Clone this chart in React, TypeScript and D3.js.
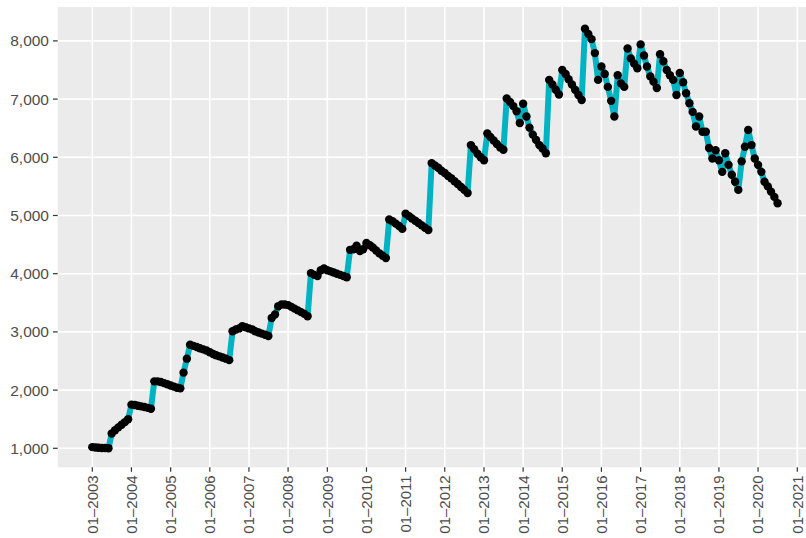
import React from 'react';
import * as d3 from 'd3';

// monthly values, Jan 2003 .. Jul 2020
const y2003 = [1020, 1015, 1010, 1005, 1005, 1000, 1255, 1310, 1360, 1405, 1450, 1500];
const y2004 = [1750, 1745, 1730, 1720, 1710, 1695, 1680, 2150, 2150, 2140, 2120, 2100];
const y2005 = [2080, 2060, 2040, 2030, 2300, 2540, 2780, 2760, 2740, 2720, 2700, 2680];
const y2006 = [2650, 2620, 2600, 2580, 2560, 2540, 2515, 3010, 3040, 3060, 3100, 3080];
const y2007 = [3060, 3040, 3010, 2990, 2970, 2950, 2930, 3240, 3300, 3440, 3470, 3470];
const y2008 = [3460, 3430, 3400, 3370, 3340, 3310, 3270, 4010, 3980, 3960, 4060, 4090];
const y2009 = [4060, 4040, 4020, 4000, 3980, 3960, 3940, 4410, 4420, 4480, 4390, 4420];
const y2010 = [4530, 4490, 4450, 4400, 4350, 4310, 4270, 4930, 4900, 4860, 4820, 4770];
const y2011 = [5030, 4990, 4950, 4910, 4870, 4830, 4790, 4750, 5900, 5860, 5820, 5770];
const y2012 = [5730, 5680, 5640, 5590, 5540, 5490, 5440, 5385, 6210, 6140, 6060, 6000];
const y2013 = [5950, 6410, 6350, 6290, 6230, 6170, 6130, 7010, 6950, 6880, 6790, 6590];
const y2014 = [6920, 6700, 6510, 6390, 6300, 6210, 6150, 6070, 7330, 7250, 7160, 7080];
const y2015 = [7500, 7430, 7340, 7250, 7160, 7070, 6985, 8210, 8120, 8030, 7790, 7330];
const y2016 = [7560, 7430, 7210, 6970, 6700, 7410, 7270, 7210, 7870, 7700, 7610, 7530];
const y2017 = [7940, 7750, 7560, 7390, 7300, 7190, 7770, 7650, 7500, 7410, 7330, 7070];
const y2018 = [7450, 7290, 7100, 6930, 6780, 6530, 6700, 6440, 6440, 6160, 5980, 6120];
const y2019 = [5950, 5750, 6070, 5870, 5700, 5580, 5440, 5930, 6180, 6470, 6210, 5980];
const y2020 = [5870, 5750, 5580, 5500, 5410, 5320, 5210];

const years = [2003, 2004, 2005, 2006, 2007, 2008, 2009, 2010, 2011, 2012, 2013, 2014, 2015, 2016, 2017, 2018, 2019, 2020];
const yearValues = [y2003, y2004, y2005, y2006, y2007, y2008, y2009, y2010, y2011, y2012, y2013, y2014, y2015, y2016, y2017, y2018, y2019, y2020];

const yTicks = [1000, 2000, 3000, 4000, 5000, 6000, 7000, 8000];
const xTickYears = [2003, 2004, 2005, 2006, 2007, 2008, 2009, 2010, 2011, 2012, 2013, 2014, 2015, 2016, 2017, 2018, 2019, 2020, 2021];

type Pt = { date: Date; value: number };
const data: Pt[] = years.flatMap((yr, i) =>
  yearValues[i].map((v, m) => ({ date: new Date(Date.UTC(yr, m, 1)), value: v }))
);

const W = 806;
const H = 538;
const panel = { left: 57.7, top: 7, right: 812, bottom: 467.3 };

const x = d3.scaleUtc()
  .domain([new Date(Date.UTC(2003, 0, 1)), new Date(Date.UTC(2021, 0, 1))])
  .range([92.3, 797.3]);

const y = d3.scaleLinear()
  .domain([1000, 8000])
  .range([448.3, 40.9]);

const fmt = d3.format(',');
const font = '"Liberation Sans", Arial, Helvetica, sans-serif';

export default function App() {
  const line = d3.line<Pt>()
    .x(d => x(d.date))
    .y(d => y(d.value));

  return (
    <svg width={W} height={H} style={{ position: 'absolute', left: 0, top: 0, background: '#fff' }}>
      <rect x={panel.left} y={panel.top} width={panel.right - panel.left} height={panel.bottom - panel.top} fill="#EBEBEB" />

      {/* grid */}
      {yTicks.map(t => (
        <line key={'gy' + t} x1={panel.left} x2={panel.right} y1={y(t)} y2={y(t)} stroke="#fff" strokeWidth={1.6} />
      ))}
      {xTickYears.map(yr => {
        const px = x(new Date(Date.UTC(yr, 0, 1)));
        return <line key={'gx' + yr} x1={px} x2={px} y1={panel.top} y2={panel.bottom} stroke="#fff" strokeWidth={1.6} />;
      })}

      {/* series */}
      <path d={line(data) || ''} fill="none" stroke="#00B3C3" strokeWidth={6} strokeLinejoin="round" strokeLinecap="butt" />
      {data.map((d, i) => (
        <circle key={i} cx={x(d.date)} cy={y(d.value)} r={4.2} fill="#000" />
      ))}

      {/* y axis */}
      {yTicks.map(t => (
        <g key={'ty' + t}>
          <line x1={53} x2={panel.left} y1={y(t)} y2={y(t)} stroke="#333" strokeWidth={1.2} />
          <text x={49} y={y(t)} dy="0.36em" textAnchor="end" fontFamily={font} fontSize={15.5} fill="#4D4D4D">
            {fmt(t)}
          </text>
        </g>
      ))}

      {/* x axis */}
      {xTickYears.map(yr => {
        const px = x(new Date(Date.UTC(yr, 0, 1)));
        return (
          <g key={'tx' + yr}>
            <line x1={px} x2={px} y1={panel.bottom} y2={panel.bottom + 4.5} stroke="#333" strokeWidth={1.2} />
            <text
              transform={`translate(${px},${panel.bottom + 8}) rotate(-90)`}
              dy="0.36em"
              textAnchor="end"
              fontFamily={font}
              fontSize={15}
              fill="#4D4D4D"
            >
              {`01–${yr}`}
            </text>
          </g>
        );
      })}
    </svg>
  );
}
